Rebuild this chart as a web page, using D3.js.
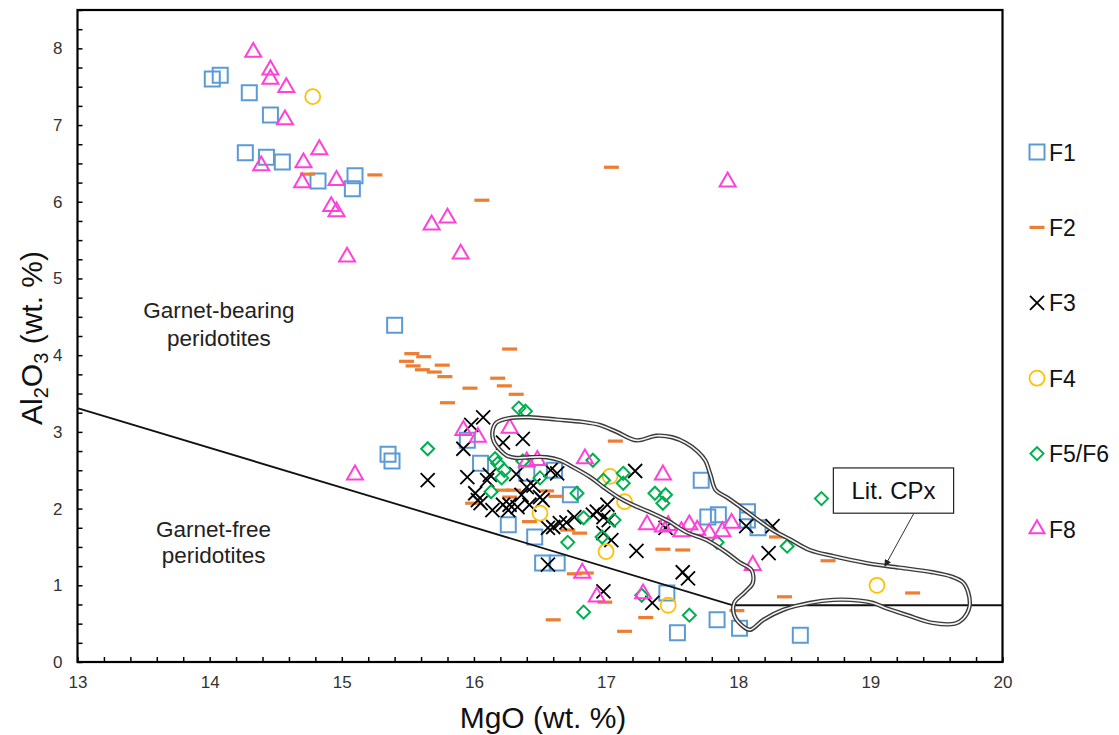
<!DOCTYPE html>
<html><head><meta charset="utf-8">
<script src="https://cdn.jsdelivr.net/npm/d3@7"></script>
<style>
body{margin:0;background:#fff;}
text{font-family:"Liberation Sans",Arial,sans-serif;}
</style></head>
<body><svg id="chart" width="1119" height="735"></svg>
<script>
// ---------- DATA ----------
const xTicks = [13,14,15,16,17,18,19,20];
const yTicks = [0,1,2,3,4,5,6,7,8];
const seriesNames = ["F1","F2","F3","F4","F5/F6","F8"];

const f1MgO = [14.02,14.08,14.30,14.46,14.27,14.43,14.55,14.82,15.08,15.10,15.40,15.35,15.38,16.05,15.95,16.26,16.46,16.40,16.61,16.73,17.72,17.77,17.85,18.07,18.07,18.15,17.46,17.84,18.01,17.54,18.47,16.52,16.63];
const f1Al  = [7.60,7.65,7.42,7.13,6.64,6.58,6.52,6.27,6.17,6.34,4.39,2.71,2.62,2.59,2.89,1.79,1.63,2.46,2.50,2.18,2.37,1.89,1.92,1.96,1.85,1.75,0.90,0.55,0.44,0.38,0.35,1.29,1.29];

const f2MgO = [14.74,15.25,17.04,16.06,15.53,15.62,15.49,15.54,15.61,15.70,15.76,15.78,15.80,15.97,16.27,16.18,16.23,16.32,17.07,16.22,16.30,16.27,16.62,15.99,16.42,16.80,16.71,17.43,17.58,16.76,16.85,16.99,16.60,17.14,17.30,17.99,18.29,18.68,18.35,19.32,16.55];
const f2Al  = [6.36,6.35,6.45,6.02,4.02,3.98,3.92,3.86,3.81,3.78,3.87,3.72,3.38,3.57,4.08,3.70,3.60,3.49,2.88,2.24,2.24,2.15,2.16,2.07,1.83,1.68,1.72,1.47,1.46,1.15,1.16,0.78,0.55,0.40,0.58,0.67,1.63,1.32,0.85,0.90,2.23];

const f3MgO = [16.07,15.98,16.22,16.37,15.92,15.65,15.95,16.10,16.12,16.01,16.03,16.40,16.36,16.50,16.42,16.22,16.26,16.63,16.58,16.32,17.22,16.60,16.70,16.93,16.98,17.01,16.05,16.14,16.27,16.33,16.52,16.56,16.65,16.76,17.02,16.98,17.04,17.23,16.56,16.98,17.35,17.58,17.62,17.45,18.06,18.26,18.23,16.45,16.90];
const f3Al  = [3.19,3.09,2.86,2.91,2.78,2.37,2.41,2.37,2.44,2.20,2.11,2.28,2.18,2.15,2.05,2.05,1.98,2.46,2.50,2.45,2.49,1.76,1.82,1.96,1.89,2.05,2.07,1.98,2.05,2.02,2.11,1.75,1.81,1.89,1.85,1.68,1.59,1.45,1.27,0.92,0.77,1.17,1.09,1.75,1.77,1.77,1.42,2.30,1.92];

const f4MgO = [14.78,17.03,17.14,16.50,17.00,17.47,19.05];
const f4Al  = [7.37,2.42,2.09,1.94,1.44,0.74,1.00];

const f5MgO = [16.34,16.39,15.65,16.16,16.18,16.90,16.23,16.37,16.50,17.13,16.98,17.13,17.37,17.45,16.78,16.21,16.13,16.83,17.06,16.71,16.97,17.43,17.84,16.83,17.63,17.27,18.63,18.37];
const f5Al  = [3.31,3.27,2.78,2.65,2.59,2.63,2.50,2.62,2.40,2.46,2.37,2.33,2.20,2.18,2.20,2.40,2.22,1.88,1.85,1.56,1.63,2.07,1.56,0.65,0.61,0.87,2.13,1.51];

const f8MgO = [14.33,14.46,14.46,14.58,14.57,14.83,14.39,14.71,14.70,14.96,14.92,14.96,15.68,15.80,17.92,15.04,15.90,15.10,15.92,16.03,16.27,16.40,16.48,16.84,17.43,17.31,17.43,17.57,17.63,17.69,17.78,17.88,17.95,18.11,16.82,16.93,17.28,17.47];
const f8Al  = [7.95,7.72,7.60,7.49,7.07,6.68,6.47,6.51,6.25,6.28,5.94,5.87,5.70,5.79,6.26,5.28,5.32,2.44,3.02,2.93,3.05,2.61,2.63,2.65,2.44,1.79,1.76,1.70,1.79,1.72,1.68,1.70,1.81,1.26,1.16,0.85,0.89,1.78];

// garnet-in boundary line
const boundMgO = [13,17.96,20];
const boundAl  = [3.31,0.74,0.74];

// Literature clinopyroxene field
const cpxMgO = [16.14,16.17,16.27,16.42,16.63,16.82,16.95,17.08,17.23,17.38,17.50,17.60,17.69,17.75,17.79,17.83,17.92,18.05,18.16,18.26,18.39,18.54,18.72,18.97,19.22,19.47,19.62,19.70,19.74,19.75,19.70,19.64,19.47,19.28,19.12,19.02,18.92,18.72,18.54,18.34,18.19,18.09,18.04,17.97,17.97,18.05,18.11,18.10,18.01,17.91,17.76,17.61,17.48,17.35,17.20,17.09,16.98,16.88,16.75,16.65,16.55,16.42,16.32,16.25,16.20,16.15];
const cpxAl  = [3.00,3.12,3.18,3.19,3.16,3.13,3.09,3.00,2.89,2.95,2.93,2.86,2.75,2.63,2.44,2.24,2.14,1.98,1.84,1.72,1.60,1.46,1.38,1.29,1.23,1.17,1.11,1.04,0.91,0.72,0.56,0.50,0.51,0.61,0.70,0.77,0.80,0.81,0.77,0.68,0.55,0.42,0.46,0.61,0.77,0.91,1.03,1.20,1.30,1.43,1.59,1.69,1.83,1.94,2.05,2.15,2.28,2.41,2.54,2.63,2.67,2.67,2.66,2.69,2.76,2.88];

// ---------- LAYOUT ----------
const svg = d3.select("#chart");
const L = 77.5, R = 1002.5, T = 10, B = 662;
const x = d3.scaleLinear().domain([13,20]).range([L,R]);
const y = d3.scaleLinear().domain([0,8.5]).range([B,T]);

const colors = {F1:"#5b9bd5",F2:"#ed7d31",F3:"#000000",F4:"#ffc000","F5/F6":"#00b050",F8:"#ff40d9"};

function markerPath(type, s){
  const h = s/2;
  switch(type){
    case "square": return `M${-h},${-h}H${h}V${h}H${-h}Z`;
    case "diamond": return `M0,${-h}L${h},0L0,${h}L${-h},0Z`;
    case "triangle": { const ht = s*0.866; return `M0,${-ht*2/3}L${h},${ht/3}L${-h},${ht/3}Z`; }
    case "x": return `M${-h},${-h}L${h},${h}M${-h},${h}L${h},${-h}`;
    case "dash": return `M${-h},0H${h}`;
    case "circle": { const p=d3.path(); p.arc(0,0,h,0,2*Math.PI); p.closePath(); return p.toString(); }
  }
}
const styles = {
  F1:{type:"square",size:15,sw:2},
  F2:{type:"dash",size:15,sw:3.2},
  F3:{type:"x",size:14,sw:1.8},
  F4:{type:"circle",size:15,sw:1.8},
  "F5/F6":{type:"diamond",size:13,sw:2},
  F8:{type:"triangle",size:16,sw:2}
};

// ---------- AXES ----------
const gx = svg.append("g").attr("transform",`translate(0,${B})`);
gx.call(d3.axisBottom(x).tickValues(d3.range(13,20.001,0.2)).tickSizeInner(-5).tickSizeOuter(0).tickFormat(""));
gx.select(".domain").remove();
gx.selectAll(".tick line").attr("stroke","#000").attr("stroke-width",1.5);
const gxl = svg.append("g").attr("transform",`translate(0,${B})`);
gxl.call(d3.axisBottom(x).tickValues(xTicks).tickSize(0).tickPadding(14).tickFormat(d3.format("d")));
gxl.select(".domain").remove();
gxl.selectAll("text").attr("font-size",17).attr("fill","#333").style("font-family","Liberation Sans, Arial, sans-serif");

const gy = svg.append("g").attr("transform",`translate(${L},0)`);
gy.call(d3.axisLeft(y).tickValues(d3.range(0,8.501,0.25)).tickSizeInner(-5).tickSizeOuter(0).tickFormat(""));
gy.select(".domain").remove();
gy.selectAll(".tick line").attr("stroke","#000").attr("stroke-width",1.5);
const gyl = svg.append("g").attr("transform",`translate(${L},0)`);
gyl.call(d3.axisLeft(y).tickValues(yTicks).tickSize(0).tickPadding(15).tickFormat(d3.format("d")));
gyl.select(".domain").remove();
gyl.selectAll("text").attr("font-size",17).attr("fill","#333").style("font-family","Liberation Sans, Arial, sans-serif");

// frame
svg.append("rect").attr("x",L).attr("y",T).attr("width",R-L).attr("height",B-T)
  .attr("fill","none").attr("stroke","#000").attr("stroke-width",2.2);

// ---------- SERIES ----------
const seriesData = [
  ["F1",f1MgO,f1Al],["F2",f2MgO,f2Al],["F3",f3MgO,f3Al],["F4",f4MgO,f4Al],["F5/F6",f5MgO,f5Al],["F8",f8MgO,f8Al]
];
const plotG = svg.append("g");
seriesData.forEach(([name,xs,ys])=>{
  const st = styles[name];
  const pts = xs.map((v,i)=>({x:v,y:ys[i]}));
  plotG.append("g").selectAll("path").data(pts).join("path")
    .attr("transform",d=>`translate(${x(d.x)},${y(d.y)})`)
    .attr("d",markerPath(st.type,st.size))
    .attr("fill","none").attr("stroke",colors[name]).attr("stroke-width",st.sw);
});

// boundary line
const line = d3.line().x(d=>x(d[0])).y(d=>y(d[1]));
svg.append("path").datum(boundMgO.map((v,i)=>[v,boundAl[i]]))
  .attr("d",line).attr("fill","none").attr("stroke","#111").attr("stroke-width",1.8);

// CPx field (double line)
const cpxLine = d3.line().x(d=>x(d[0])).y(d=>y(d[1])).curve(d3.curveCatmullRomClosed.alpha(0.5));
const cpxPts = cpxMgO.map((v,i)=>[v,cpxAl[i]]);
svg.append("path").datum(cpxPts).attr("d",cpxLine).attr("fill","none").attr("stroke","#3a3a3a").attr("stroke-width",4.4);
svg.append("path").datum(cpxPts).attr("d",cpxLine).attr("fill","none").attr("stroke","#f4f4f4").attr("stroke-width",1.6);

// Lit. CPx callout
const bx0 = x(18.72), bx1 = x(19.63), by0 = y(2.53), by1 = y(1.94);
svg.append("rect").attr("x",bx0).attr("y",by0).attr("width",bx1-bx0).attr("height",by1-by0)
  .attr("fill","#fff").attr("stroke","#222").attr("stroke-width",1.2);
svg.append("text").attr("x",(bx0+bx1)/2).attr("y",by0+31).attr("text-anchor","middle")
  .attr("font-size",24).attr("fill","#111").text("Lit. CPx");
svg.append("defs").append("marker").attr("id","arr").attr("viewBox","0 0 10 10").attr("refX",9).attr("refY",5)
  .attr("markerWidth",7).attr("markerHeight",7).attr("orient","auto")
  .append("path").attr("d","M0,0L10,5L0,10Z").attr("fill","#222");
svg.append("line").attr("x1",x(19.33)).attr("y1",by1).attr("x2",x(19.11)).attr("y2",y(1.25))
  .attr("stroke","#333").attr("stroke-width",1).attr("marker-end","url(#arr)");

// region labels
const lab = (tx,ty,t)=>svg.append("text").attr("x",tx).attr("y",ty).attr("text-anchor","middle").attr("font-size",22.5).attr("fill","#222").text(t);
lab(x(14.07),y(4.48),"Garnet-bearing");
lab(x(14.07),y(4.12),"peridotites");
lab(x(14.03),y(1.63),"Garnet-free");
lab(x(14.03),y(1.29),"peridotites");

// axis titles
svg.append("text").attr("x",(L+R)/2+3).attr("y",728).attr("text-anchor","middle").attr("font-size",30).attr("fill","#111").text("MgO (wt. %)");
const yt = svg.append("text").attr("transform","translate(42,338) rotate(-90)").attr("text-anchor","middle").attr("font-size",30).attr("fill","#111");
yt.append("tspan").text("Al");
yt.append("tspan").attr("font-size",20).attr("dy",6).text("2");
yt.append("tspan").attr("dy",-6).text("O");
yt.append("tspan").attr("font-size",20).attr("dy",6).text("3");
yt.append("tspan").attr("dy",-6).text(" (wt. %)");

// legend
const legY0 = 152, legStep = 75.4;
seriesNames.forEach((n,i)=>{
  const st = styles[n];
  const cy = legY0 + i*legStep;
  svg.append("path").attr("transform",`translate(1037,${cy})`)
    .attr("d",markerPath(st.type, n==="F8"?15:st.size))
    .attr("fill","none").attr("stroke",colors[n]).attr("stroke-width",st.sw);
  svg.append("text").attr("x",1049).attr("y",cy+8.5).attr("font-size",23).attr("fill","#111").text(n);
});
</script></body></html>
